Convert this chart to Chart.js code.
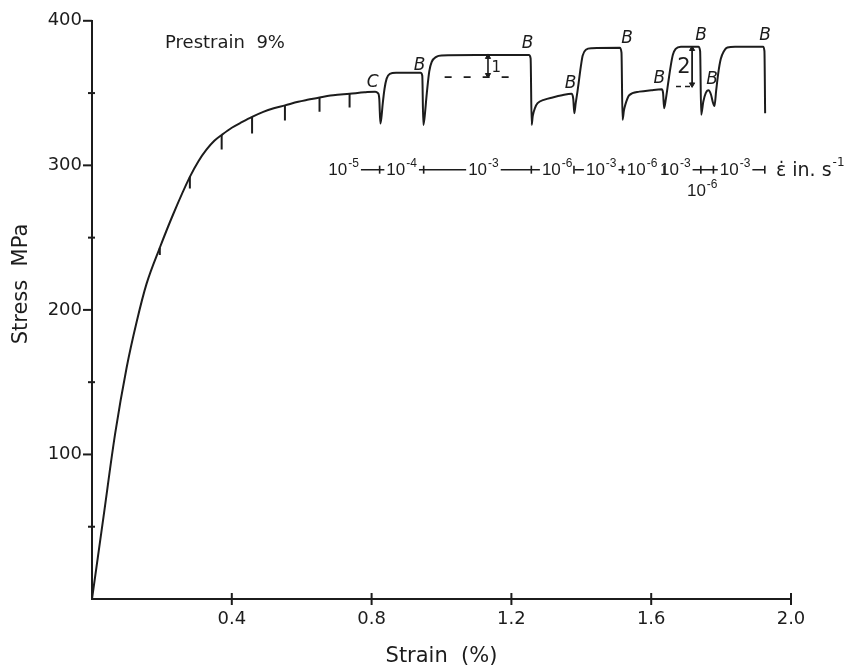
<!DOCTYPE html>
<html>
<head>
<meta charset="utf-8">
<script src="https://cdn.jsdelivr.net/npm/chart.js@4.4.1/dist/chart.umd.min.js"></script>
<style>
  html, body { margin: 0; padding: 0; background: #ffffff; }
  #wrap { width: 865px; height: 671px; }
</style>
</head>
<body>
<div id="wrap"><canvas id="c" width="865" height="671"></canvas></div>
<script>
// ---------- data ----------
// main stress-strain record (strain %, stress MPa)
const strain = [
  0, 0.033, 0.066, 0.099, 0.128, 0.156, 0.194, 0.232, 0.280, 0.305,
  0.328, 0.350, 0.371, 0.400, 0.430, 0.458, 0.490, 0.520, 0.552, 0.590,
  0.620, 0.651, 0.690, 0.737, 0.780, 0.810,
  0.818, 0.822, 0.825, 0.828, 0.832, 0.837, 0.843, 0.852, 0.870, 0.940,
  0.945, 0.948, 0.951, 0.958, 0.965, 0.972, 0.985, 1.000, 1.100, 1.250,
  1.255, 1.258, 1.261, 1.268, 1.275, 1.295, 1.318, 1.345, 1.372,
  1.377, 1.380, 1.384, 1.389, 1.394, 1.399, 1.404, 1.413, 1.430, 1.510,
  1.515, 1.518, 1.522, 1.526, 1.537, 1.566, 1.600, 1.630,
  1.634, 1.637, 1.642, 1.648, 1.656, 1.662, 1.670, 1.685, 1.735,
  1.740, 1.743, 1.749, 1.756, 1.764, 1.771, 1.776, 1.781, 1.786, 1.792,
  1.799, 1.808, 1.818, 1.840, 1.920, 1.924, 1.926
];
const stress = [
  0, 57, 114, 160, 192, 218, 243, 266, 292, 303,
  311, 317, 321, 326, 330, 333.5, 337, 339.5, 341.5, 344,
  345.5, 347, 348.5, 349.5, 350.5, 351,
  350, 346, 329, 333, 343, 353, 360, 363.3, 364, 364,
  362, 328, 332, 350, 365, 371.5, 375, 376, 376.3, 376.3,
  374, 328, 334, 340, 343, 345.5, 347, 348.5, 349.5,
  346, 336, 343, 351, 360, 369, 376, 380, 381, 381.3,
  378, 331.5, 338, 342, 348.5, 351, 352, 352.6,
  350, 339.5, 346, 356, 369, 376.5, 380.5, 382, 382,
  379, 335, 344, 350, 352, 349, 344, 341, 352, 364,
  373.5, 379, 381.5, 382, 382, 379, 336
];

// short unloading marks hanging below the hardening curve
const dipStrain = [0.194, 0.280, 0.371, 0.458, 0.552, 0.651, 0.737];
const dipTop    = [243, 292, 321, 333.5, 341.5, 347, 349.5];
const dipBottom = [238, 284, 311, 322, 331, 337, 340];

// construction lines for the stress increments "1" and "2"
const dash1Strain = [1.009, 1.204];
const dash1Stress = [361, 361];
const arrow1Strain = [1.133, 1.133];
const arrow1Stress = [362.5, 375];
const dash2Strain = [1.671, 1.716];
const dash2Stress = [354.5, 354.5];
const arrow2Strain = [1.717, 1.717];
const arrow2Stress = [356, 380.5];

// letter marks on the curve
const markText   = ['C', 'B', 'B', 'B', 'B', 'B', 'B', 'B', 'B'];
const markStrain = [0.803, 0.937, 1.246, 1.369, 1.531, 1.623, 1.743, 1.774, 1.926];
const markStress = [357, 369, 384, 356.5, 387.6, 360, 390, 359, 390];

// strain-rate sequence (in. s^-1)
const rateExp    = ['-5', '-4', '-3', '-6', '-3', '-6', '-3', '-6', '-3'];
const rateStrain = [0.72, 0.886, 1.12, 1.331, 1.457, 1.574, 1.669, 1.746, 1.84];
const rateLow    = [false, false, false, false, false, false, false, true, false];
const rateBreaks = [0.823, 0.949, 1.257, 1.379, 1.518, 1.637, 1.742, 1.778, 1.925];
const rateLevel  = 297;
const rateLowLevel = 282.5;

// axes
const xTickValues  = [0.4, 0.8, 1.2, 1.6, 2.0];
const yMajorValues = [100, 200, 300, 400];
const yMinorValues = [50, 150, 250, 350];

// ---------- drawing ----------
const INK = '#1c1c1c';
const FONT = '"DejaVu Sans", "Liberation Sans", sans-serif';
const NARROW = '"Liberation Sans", "DejaVu Sans", sans-serif';
Chart.defaults.font.family = FONT;
Chart.defaults.color = INK;

const xy = (xs, ys) => xs.map((v, i) => ({ x: v, y: ys[i] }));
const dipPoints = [];
dipStrain.forEach((s, i) => {
  dipPoints.push({ x: s, y: dipTop[i] }, { x: s, y: dipBottom[i] }, { x: s, y: null });
});

const annotations = {
  id: 'annotations',
  afterDatasetsDraw(chart) {
    const { ctx, scales: { x, y } } = chart;
    ctx.save();
    ctx.fillStyle = INK;
    ctx.strokeStyle = INK;

    // "Prestrain 9%"
    ctx.font = '18px ' + FONT;
    ctx.textAlign = 'left';
    ctx.textBaseline = 'alphabetic';
    ctx.fillText('Prestrain  9%', x.getPixelForValue(0.209), y.getPixelForValue(381));

    // letter marks
    ctx.font = 'italic 17px ' + FONT;
    ctx.textAlign = 'center';
    ctx.textBaseline = 'middle';
    markText.forEach((t, i) => {
      ctx.fillText(t, x.getPixelForValue(markStrain[i]), y.getPixelForValue(markStress[i]));
    });

    // increment numbers
    ctx.font = '15px ' + FONT;
    ctx.fillText('1', x.getPixelForValue(1.157), y.getPixelForValue(367));
    ctx.font = '21px ' + FONT;
    ctx.fillText('2', x.getPixelForValue(1.694), y.getPixelForValue(368));

    // strain-rate row
    const ry = y.getPixelForValue(rateLevel);
    ctx.lineWidth = 1.4;
    ctx.beginPath();
    ctx.moveTo(x.getPixelForValue(0.76), ry);
    ctx.lineTo(x.getPixelForValue(1.925), ry);
    ctx.stroke();
    rateExp.forEach((e, i) => {
      const cx = x.getPixelForValue(rateStrain[i]);
      const cy = rateLow[i] ? y.getPixelForValue(rateLowLevel) : ry;
      ctx.font = '17px ' + NARROW;
      const wb = ctx.measureText('10').width;
      ctx.font = '12px ' + NARROW;
      const ws = ctx.measureText(e).width;
      const w = wb + ws + 1;
      const x0 = cx - w / 2;
      if (!rateLow[i]) {
        ctx.fillStyle = '#ffffff';
        ctx.fillRect(x0 - 2, cy - 10, w + 4, 20);
      }
      ctx.fillStyle = INK;
      ctx.textAlign = 'left';
      ctx.textBaseline = 'middle';
      ctx.font = '17px ' + NARROW;
      ctx.fillText('10', x0, cy + 1);
      ctx.font = '12px ' + NARROW;
      ctx.fillText(e, x0 + wb + 1, cy - 6);
    });
    ctx.lineWidth = 1.6;
    rateBreaks.forEach(b => {
      const px = x.getPixelForValue(b);
      ctx.beginPath();
      ctx.moveTo(px, ry - 4);
      ctx.lineTo(px, ry + 4);
      ctx.stroke();
    });
    // units
    const ux = x.getPixelForValue(1.957);
    ctx.font = '19px ' + FONT;
    ctx.textAlign = 'left';
    ctx.textBaseline = 'middle';
    const unit = '\u03B5\u0307 in. s';
    ctx.fillText(unit, ux, ry + 1);
    const uw = ctx.measureText(unit).width;
    ctx.font = '12px ' + FONT;
    ctx.fillText('-1', ux + uw + 1, ry - 7);

    ctx.restore();
  },
  afterDraw(chart) {
    const { ctx, scales: { x, y } } = chart;
    ctx.save();
    ctx.strokeStyle = INK;
    ctx.lineWidth = 2;
    const ax = x.getPixelForValue(0);
    const ay = y.getPixelForValue(0);
    yMajorValues.forEach(v => {
      const py = y.getPixelForValue(v);
      ctx.beginPath(); ctx.moveTo(ax - 9, py); ctx.lineTo(ax, py); ctx.stroke();
    });
    yMinorValues.forEach(v => {
      const py = y.getPixelForValue(v);
      ctx.beginPath(); ctx.moveTo(ax - 4, py); ctx.lineTo(ax + 3, py); ctx.stroke();
    });
    xTickValues.forEach(v => {
      const px = x.getPixelForValue(v);
      ctx.beginPath(); ctx.moveTo(px, ay - 6); ctx.lineTo(px, ay + 6); ctx.stroke();
    });
    // y axis title
    ctx.fillStyle = INK;
    ctx.font = '21px ' + FONT;
    ctx.textAlign = 'center';
    ctx.textBaseline = 'middle';
    ctx.translate(22, 284);
    ctx.rotate(-Math.PI / 2);
    ctx.fillText('Stress  MPa', 0, 0);
    ctx.restore();
  }
};

new Chart(document.getElementById('c'), {
  type: 'line',
  data: {
    datasets: [
      {
        data: xy(strain, stress),
        borderColor: INK,
        borderWidth: 2,
        pointRadius: 0,
        cubicInterpolationMode: 'monotone',
        fill: false
      },
      {
        data: dipPoints,
        borderColor: INK, borderWidth: 2, pointRadius: 0, spanGaps: false
      },
      {
        data: xy(dash1Strain, dash1Stress),
        borderColor: INK, borderWidth: 1.6, borderDash: [7, 12], pointRadius: 0
      },
      {
        data: xy(arrow1Strain, arrow1Stress),
        borderColor: INK, borderWidth: 1.6,
        pointStyle: 'triangle', pointRadius: 3, pointRotation: [180, 0],
        pointBackgroundColor: INK, pointBorderColor: INK, pointBorderWidth: 1
      },
      {
        data: xy(dash2Strain, dash2Stress),
        borderColor: INK, borderWidth: 1.6, borderDash: [5, 4], pointRadius: 0
      },
      {
        data: xy(arrow2Strain, arrow2Stress),
        borderColor: INK, borderWidth: 1.8,
        pointStyle: 'triangle', pointRadius: 3, pointRotation: [180, 0],
        pointBackgroundColor: INK, pointBorderColor: INK, pointBorderWidth: 1
      }
    ]
  },
  options: {
    responsive: false,
    animation: false,
    events: [],
    layout: { padding: { top: 19, right: 74, bottom: 0, left: 0 } },
    plugins: { legend: { display: false }, tooltip: { enabled: false } },
    scales: {
      x: {
        type: 'linear',
        min: 0, max: 2.0,
        grid: { display: false, drawTicks: false },
        border: { display: true, color: INK, width: 2 },
        ticks: {
          stepSize: 0.4,
          padding: 10,
          color: INK,
          font: { size: 18 },
          maxRotation: 0,
          callback: v => (Math.abs(v) < 1e-9 ? '' : Number(v).toFixed(1))
        },
        title: {
          display: true,
          text: 'Strain  (%)',
          color: INK,
          font: { size: 21 },
          padding: { top: 0, bottom: 2 }
        },
        afterFit: s => { s.height = 72; }
      },
      y: {
        type: 'linear',
        min: 0, max: 400,
        grid: { display: false, drawTicks: false },
        border: { display: true, color: INK, width: 2 },
        ticks: {
          stepSize: 50,
          padding: 10,
          color: INK,
          font: { size: 18 },
          callback: v => (v > 0 && v % 100 === 0 ? String(v) : '')
        },
        afterFit: s => { s.width = 92; }
      }
    }
  },
  plugins: [annotations]
});
</script>
</body>
</html>
